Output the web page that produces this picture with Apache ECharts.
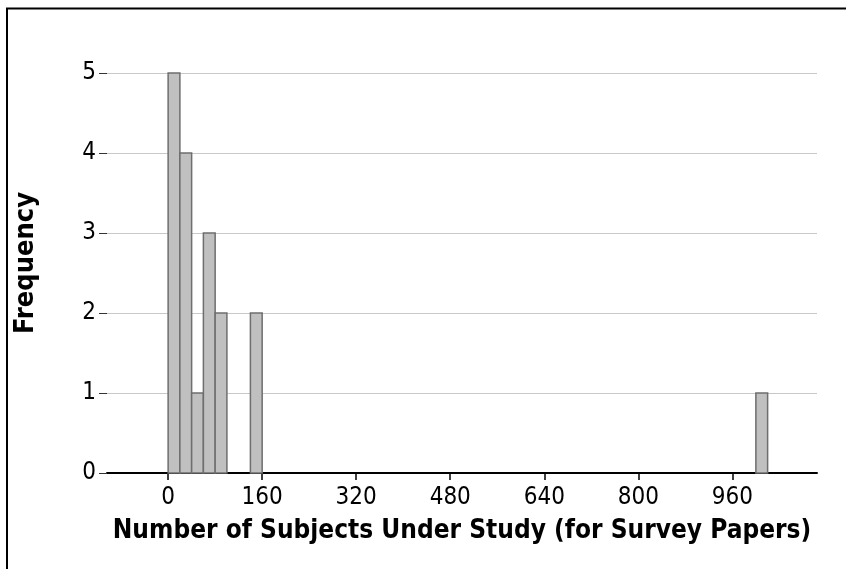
<!DOCTYPE html>
<html><head><meta charset="utf-8">
<script src="https://cdn.jsdelivr.net/npm/echarts@6/dist/echarts.min.js"></script>
<style>html,body{margin:0;padding:0;background:#fff}#c{width:846px;height:569px}</style>
</head><body><div id="c"></div>
<script>
const binStarts = [0, 20, 40, 60, 80, 140, 1000];
const binWidth = 20;
const counts = [5, 4, 1, 3, 2, 2, 1];
const xTicks = [0, 160, 320, 480, 640, 800, 960];
const yTicks = [0, 1, 2, 3, 4, 5];
const xTitle = 'Number of Subjects Under Study (for Survey Papers)';
const yTitle = 'Frequency';

const FONT = "Tahoma, 'DejaVu Sans Condensed', 'DejaVu Sans', sans-serif";
const chart = echarts.init(document.getElementById('c'), null, {renderer: 'canvas'});
chart.setOption({
  animation: false,
  backgroundColor: '#fff',
  grid: {left: 107, right: 29, top: 73, bottom: 96, containLabel: false},
  xAxis: {
    type: 'value', min: -104, max: 1104,
    axisLine: {show: true, onZero: false, lineStyle: {color: '#000', width: 2}},
    axisTick: {show: true, length: 7, lineStyle: {color: '#000', width: 1.5}, customValues: xTicks},
    axisLabel: {customValues: xTicks, color: '#000', fontFamily: FONT, fontSize: 24, margin: 13},
    splitLine: {show: false},
    name: xTitle, nameLocation: 'middle', nameGap: 45,
    nameTextStyle: {color: '#000', fontFamily: FONT, fontWeight: 'bold', fontSize: 26}
  },
  yAxis: {
    type: 'value', min: 0, max: 5, interval: 1,
    axisLine: {show: false, onZero: false},
    axisTick: {show: true, length: 8, lineStyle: {color: '#333', width: 1}},
    axisLabel: {color: '#000', fontFamily: FONT, fontSize: 24, margin: 11,
      formatter: v => yTicks.includes(v) ? String(v) : ''},
    splitLine: {show: true, lineStyle: {color: '#c8c8c8', width: 1}}
  },
  series: [{
    type: 'custom',
    data: binStarts.map((s, i) => [s, s + binWidth, counts[i]]),
    renderItem: function (params, api) {
      const p0 = api.coord([api.value(0), 0]);
      const p1 = api.coord([api.value(1), api.value(2)]);
      return {
        type: 'rect',
        shape: {x: p0[0], y: p1[1], width: p1[0] - p0[0], height: p0[1] - p1[1]},
        style: {fill: '#c0c0c0', stroke: '#6e6e6e', lineWidth: 1.5}
      };
    },
    encode: {x: [0, 1], y: 2}
  }],
  graphic: [{
    type: 'rect', shape: {x: 7, y: 8.5, width: 900, height: 700},
    style: {fill: null, stroke: '#000', lineWidth: 2}, silent: true, z: 100
  }, {
    type: 'text', x: 26, y: 263, rotation: Math.PI / 2,
    style: {text: yTitle, fill: '#000', font: "bold 27px " + FONT, align: 'center', verticalAlign: 'middle'}
  }]
});
</script></body></html>
